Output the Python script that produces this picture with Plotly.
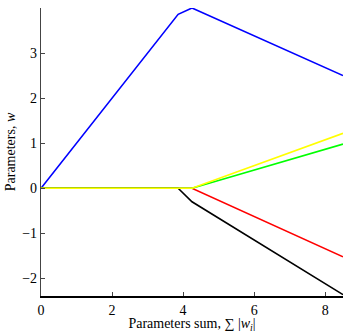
import plotly.graph_objects as go

# LASSO path breakpoints (sum of |w|)
path_sum = [0, 3.86, 4.25, 8.5]
w_blue = [0, 3.86, 4.0, 2.50]
w_black = [0, 0, -0.30, -2.36]
w_red = [0, 0, 0, -1.52]
w_green = [0, 0, 0, 0.98]
w_yellow = [0, 0, 0, 1.22]

x_ticks = [0, 2, 4, 6, 8]
y_ticks = [-2, -1, 0, 1, 2, 3]

series = [
    (w_blue, "#0000ff"),
    (w_black, "#000000"),
    (w_red, "#ff0000"),
    (w_green, "#00ff00"),
    (w_yellow, "#ffff00"),
]

fig = go.Figure()
for vals, col in series:
    fig.add_trace(go.Scatter(x=path_sum, y=vals, mode="lines",
                             line=dict(color=col, width=1.6), showlegend=False))

font = dict(family="Liberation Serif, DejaVu Serif, serif", size=14, color="black")
fig.update_layout(
    width=344, height=333,
    margin=dict(l=41, r=1, t=8, b=37),
    paper_bgcolor="white", plot_bgcolor="white",
    font=font,
    xaxis=dict(range=[0, 8.5], tickvals=x_ticks, ticks="inside", ticklen=4,
               showline=True, linecolor="black", linewidth=1.5, showgrid=False,
               zeroline=False, mirror=False, tickfont=font,
               title=dict(text="Parameters sum, ∑ |<i>w<sub>i</sub></i>|", standoff=0, font=font)),
    yaxis=dict(range=[-2.39, 4.0], tickvals=y_ticks,
               ticktext=["\u22122", "\u22121", "0", "1", "2", "3"],
               ticks="inside", ticklen=4, tickfont=font,
               showline=True, linecolor="#444444", linewidth=1.2, showgrid=False,
               zeroline=False, mirror=False,
               title=dict(text="Parameters, <i>w</i>", standoff=3, font=font)),
)

fig.write_html("out.html", post_script="document.body.style.margin='0';",
               config={"displayModeBar": False})
